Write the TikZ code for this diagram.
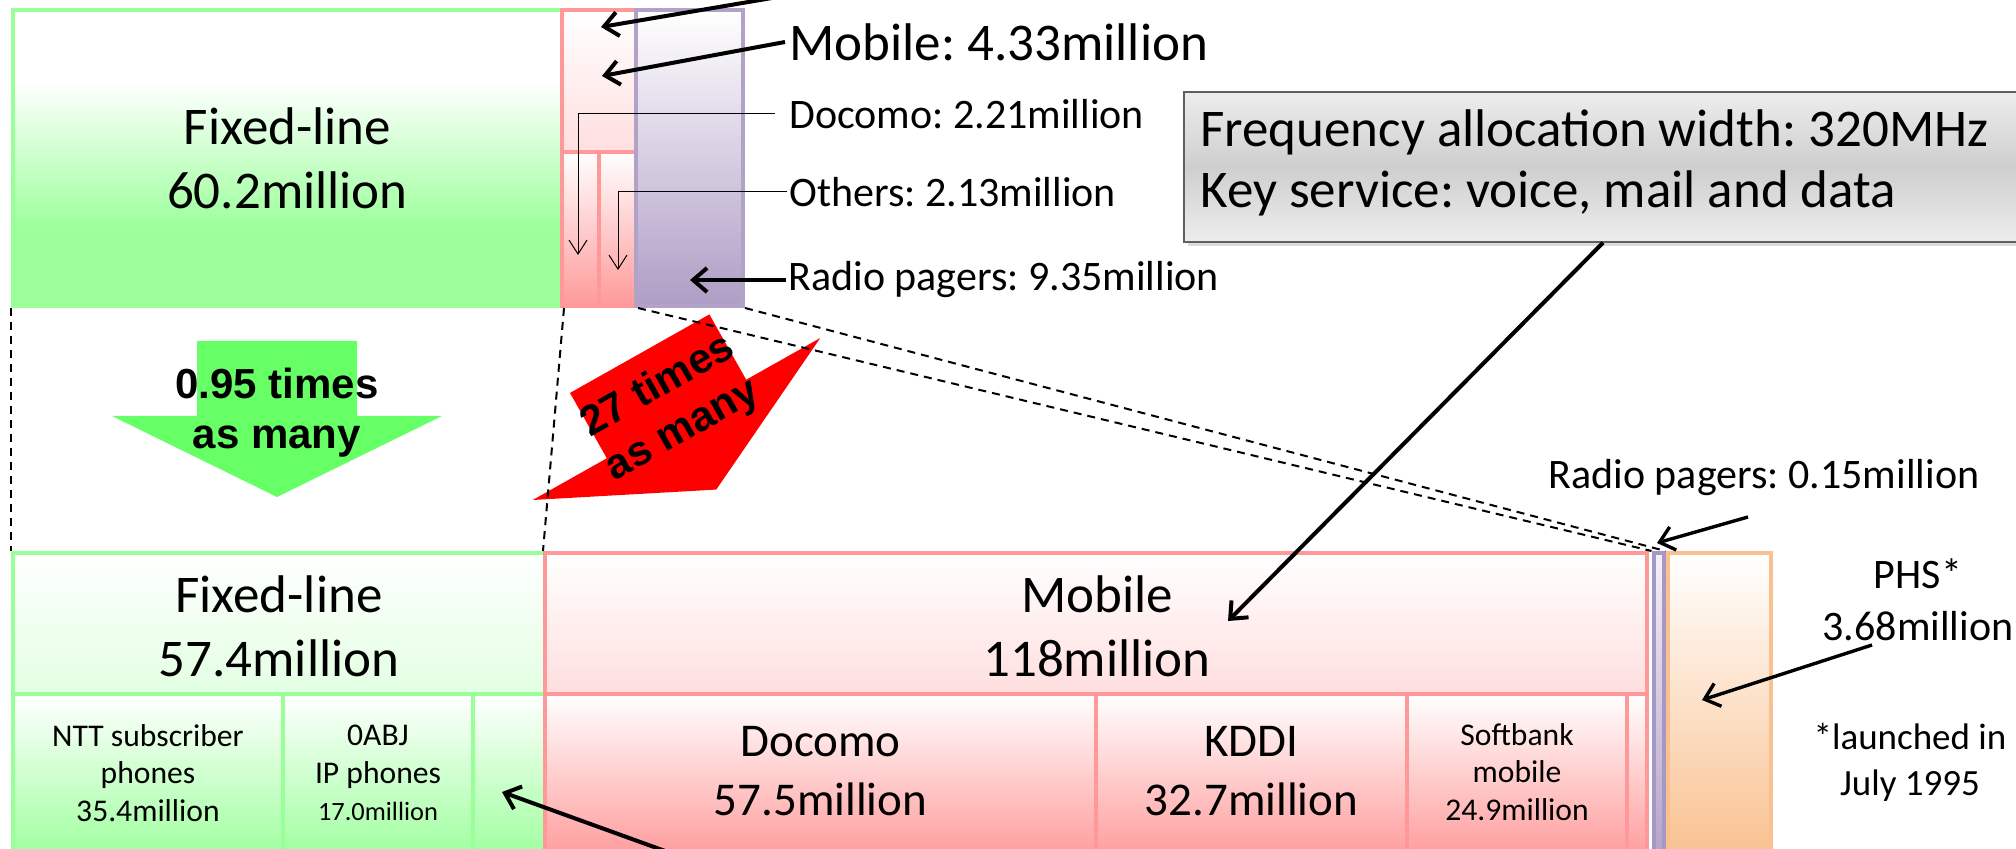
\documentclass[tikz,border=0pt]{standalone}
\usepackage{fontspec}
\setmainfont{Carlito}
\newfontfamily\arialfont{Liberation Sans}
\usetikzlibrary{arrows.meta,fit,shadows}
\frenchspacing
\definecolor{gline}{HTML}{99FF99}
\definecolor{gfill}{HTML}{9CFF9C}
\definecolor{glight}{HTML}{E2FFE2}
\definecolor{pline}{HTML}{FF9999}
\definecolor{pfill}{HTML}{FF9999}
\definecolor{plight}{HTML}{FFDEDE}
\definecolor{vline}{HTML}{B3A2C7}
\definecolor{vdark}{HTML}{A797C4}
\definecolor{vfill}{HTML}{AE9DC5}
\definecolor{oline}{HTML}{FAC090}
\definecolor{ofill}{HTML}{F9C08E}
\definecolor{agreen}{HTML}{66FF66}
\definecolor{ared}{HTML}{FF0000}
\pgfdeclareverticalshading{greenfade}{100bp}{color(0bp)=(gfill); color(38bp)=(gfill); color(63bp)=(white); color(100bp)=(white)}
\newcommand\fs[2]{\fontsize{#1}{#2}\selectfont}
\tikzset{
  boxn/.style={inner sep=0pt, line width=2pt, shade},
  gbox/.style={boxn, draw=gline, top color=white, bottom color=gfill},
  gtop/.style={boxn, draw=gline, top color=white, bottom color=glight},
  pbox/.style={boxn, draw=pline, top color=white, bottom color=pfill},
  ptop/.style={boxn, draw=pline, top color=white, bottom color=plight},
  vbox/.style={boxn, draw=vline, top color=white, bottom color=vfill},
  obox/.style={boxn, draw=oline, top color=white, bottom color=ofill},
  bigtxt/.style={font=\fs{26.5}{32}, align=center, inner sep=0pt},
  midtxt/.style={font=\fs{23.5}{29.5}, align=center, inner sep=0pt},
  smalltxt/.style={font=\fs{15.8}{18.8}, align=center, inner sep=0pt},
  lbltxt/.style={font=\fs{21}{26}, inner sep=0pt},
  boldtxt/.style={font=\arialfont\bfseries\fs{21}{25}, align=center, inner sep=0pt},
  bigarrow/.style={line width=2pt, -{Straight Barb[length=7pt,width=12pt]}},
  thinarrow/.style={line width=0.5pt, -{Straight Barb[length=7pt,width=9pt]}},
  dashline/.style={line width=1pt, dash pattern=on 4pt off 3pt}
}
\begin{document}
\begin{tikzpicture}[x=0.5pt,y=-0.5pt]
\useasboundingbox (0,0) rectangle (2016,849);
\clip (0,0) rectangle (2016,849);

% ---------- top boxes ----------
\node[boxn, draw=gline, shading=greenfade, fit={(13,10)(562,306)}] (tFix) {};
\node[ptop, fit={(562,10)(636,152)}] (tMob) {};
\node[pbox, fit={(562,152)(599,306)}] (tDoc) {};
\node[pbox, fit={(599,152)(636,306)}] (tOth) {};
\node[vbox, fit={(636,10)(743,306)}] (tPag) {};
\node[bigtxt] (tFixT) at (287.5,158) {Fixed-line\\60.2million};

% ---------- bottom boxes ----------
\node[gtop, fit={(13,553)(545,694)}] (bFix) {};
\node[gbox, fit={(13,694)(283,862)}] (bNTT) {};
\node[gbox, fit={(283,694)(473,862)}] (bABJ) {};
\node[gbox, fit={(473,694)(545,862)}] (bFixO) {};
\node[ptop, fit={(545,553)(1647,694)}] (bMob) {};
\node[pbox, fit={(545,694)(1096,862)}] (bDoc) {};
\node[pbox, fit={(1096,694)(1407,862)}] (bKDDI) {};
\node[pbox, fit={(1407,694)(1627,862)}] (bSoft) {};
\node[pbox, fit={(1627,694)(1647,862)}] (bMobO) {};
\node[obox, fit={(1668,553)(1771,862)}] (bPHS) {};
\node[boxn, line width=2pt, draw=vdark, top color=white!85!vline, bottom color=vline, fit={(1653.5,553)(1663.5,862)}] (bPag) {};

\node[bigtxt] (bFixT) at (279,626) {Fixed-line\\57.4million};
\node[bigtxt] (bMobT) at (1097,626) {Mobile\\118million};
\node[smalltxt] (bNTTT) at (148,773) {NTT subscriber\\phones\\35.4million};
\node[smalltxt] (bABJT) at (378,773) {0ABJ\\IP phones\\{\fs{13.2}{16}17.0million}};
\node[midtxt] (bDocT) at (820.5,771) {Docomo\\57.5million};
\node[midtxt] (bKDDIT) at (1251.5,771) {KDDI\\32.7million};
\node[smalltxt] (bSoftT) at (1517,772) {Softbank\\mobile\\24.9million};

% ---------- block arrows ----------
\begin{scope}[shift={(277,416)}]
  \path[fill=agreen] (-80,-75) -- (80,-75) -- (80,0) -- (165,0) -- (0,81) -- (-165,0) -- (-80,0) -- cycle;
\end{scope}
\node[boldtxt] (gTxt) at (277,413) {0.95 times\\as many};
\begin{scope}[shift={(676.5,419)}, rotate=29.4]
  \path[fill=ared] (-80,-75) -- (80,-75) -- (80,0) -- (165,0) -- (0,81) -- (-165,0) -- (-80,0) -- cycle;
  \node[boldtxt, rotate=29.4] (rTxt) at (0,-12) {27 times\\as many};
\end{scope}

% ---------- dashed guides ----------
\draw[dashline] (tFix.south west) -- (bFix.north west);
\draw[dashline] (tFix.south east) -- (bMob.north west);
\draw[dashline] (tOth.south east) -- (bPag.north west);
\draw[dashline] (tPag.south east) -- (bPag.north east);

% ---------- frequency box ----------
\node[fit={(1184,92)(2022,242)}, inner sep=0pt, draw=gray!75!black, line width=0.7pt,
      top color=gray!14, bottom color=gray!14, middle color=gray!38,
      drop shadow={shadow xshift=2pt, shadow yshift=-2pt, fill=gray!55}] (freq) {};
\node[font=\fs{26.5}{30.5}, align=left, anchor=west, inner sep=0pt] (freqT) at (1200,163)
  {Frequency allocation width: 320MHz\\Key service: voice, mail and data};

% ---------- labels ----------
\node[font=\fs{26.5}{32}, anchor=west, inner sep=2pt] (mobT) at (785,42) {Mobile: 4.33million};
\node[lbltxt, anchor=west, inner xsep=7pt] (docT) at (775,114) {Docomo: 2.21million};
\node[lbltxt, anchor=west, inner xsep=1pt] (othT) at (787,192) {Others: 2.13million};
\node[lbltxt, anchor=west, inner xsep=1pt] (rp1T) at (786,280) {Radio pagers: 9.35million};
\node[lbltxt] (rp2T) at (1764,478) {Radio pagers: 0.15million};
\node[lbltxt, align=center, font=\fs{21}{26}] (phsT) at (1918,600) {PHS*\\3.68million};
\node[font=\fs{18.5}{23}, align=center, inner sep=0pt] (noteT) at (1910,762) {*launched in\\July 1995};

% ---------- connectors ----------
\coordinate (topSrc) at (831,-12);
\coordinate (topTip) at (601,27);
\coordinate (mobTip) at (602,76);
\coordinate (docTip) at (578,255);
\coordinate (othTip) at (618,270);
\coordinate (rp1Tip) at (690,280);
\coordinate (freqTip) at (1228,621);
\coordinate (rp2Src) at (1748,517);
\coordinate (rp2Tip) at (1657,543);
\coordinate (phsSrc) at (1872,645);
\coordinate (phsTip) at (1702,700);
\coordinate (botSrc) at (690,860);
\coordinate (botTip) at (502,792);

\draw[bigarrow] (topSrc) -- (topTip);
\draw[bigarrow] (mobT.west) -- (mobTip);
\draw[thinarrow] (docT.west) -| (docTip);
\draw[thinarrow] (othT.west) -| (othTip);
\draw[bigarrow] (rp1T.west) -- (rp1Tip);
\draw[bigarrow] (freq.south) -- (freqTip);
\draw[bigarrow, line width=1.7pt] (rp2Src) -- (rp2Tip);
\draw[bigarrow, line width=1.7pt] (phsSrc) -- (phsTip);
\draw[bigarrow] (botSrc) -- (botTip);
\end{tikzpicture}
\end{document}
